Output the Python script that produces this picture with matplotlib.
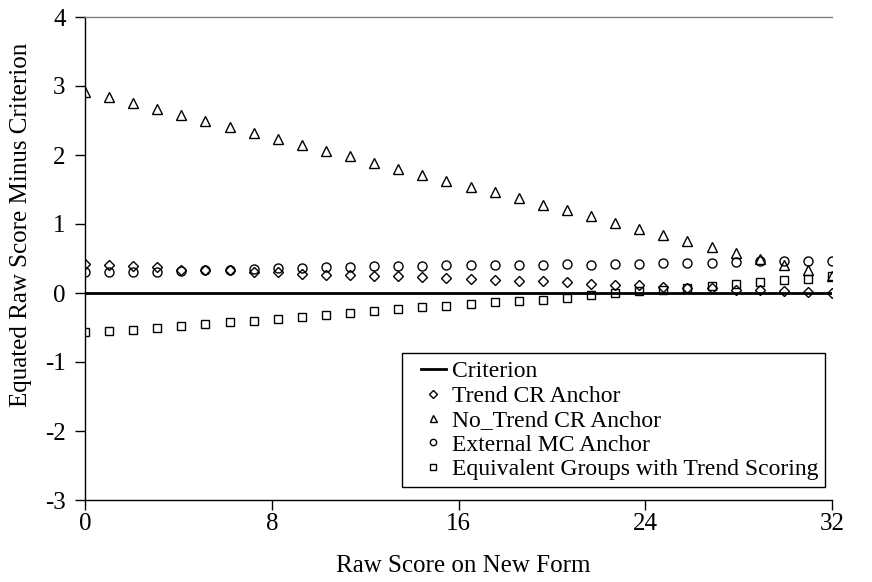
import numpy as np
import matplotlib
matplotlib.use("Agg")
import matplotlib.pyplot as plt
from matplotlib.patches import Rectangle

plt.rcParams['font.family'] = ['Liberation Serif', 'DejaVu Serif']
plt.rcParams['axes.unicode_minus'] = False

# ---- data ----
score_index = list(range(32))  # 32 plotted score points spanning the axis 0..32
x_tick_labels = ["0", "8", "16", "24", "32"]
y_ticks = [-3, -2, -1, 0, 1, 2, 3, 4]

trend_cr = [0.42, 0.41, 0.39, 0.37, 0.34, 0.33, 0.33, 0.31, 0.30, 0.28, 0.26,
            0.265, 0.25, 0.245, 0.23, 0.22, 0.20, 0.19, 0.18, 0.17, 0.155,
            0.135, 0.12, 0.11, 0.09, 0.075, 0.07, 0.05, 0.04, 0.025, 0.01, 0.0]
no_trend_cr = [2.92, 2.84, 2.75, 2.67, 2.58, 2.49, 2.41, 2.32, 2.23, 2.15, 2.06,
               1.98, 1.88, 1.80, 1.71, 1.63, 1.54, 1.46, 1.37, 1.28, 1.20,
               1.11, 1.02, 0.93, 0.84, 0.76, 0.67, 0.58, 0.50, 0.41, 0.33, 0.24]
external_mc = [0.31, 0.31, 0.31, 0.31, 0.32, 0.33, 0.33, 0.35, 0.36, 0.36, 0.37,
               0.38, 0.39, 0.39, 0.39, 0.40, 0.40, 0.40, 0.41, 0.41, 0.42,
               0.41, 0.42, 0.42, 0.43, 0.43, 0.43, 0.45, 0.46, 0.46, 0.47, 0.47]
equiv_groups = [-0.56, -0.545, -0.53, -0.51, -0.48, -0.45, -0.42, -0.40, -0.37,
                -0.35, -0.32, -0.29, -0.265, -0.235, -0.20, -0.19, -0.16, -0.13,
                -0.12, -0.10, -0.075, -0.03, 0.0, 0.025, 0.05, 0.07, 0.10, 0.13,
                0.16, 0.19, 0.21, 0.24]

n = len(score_index)
x_max = 32.0
x = np.array(score_index) * x_max / (n - 1)

W, H = 872, 582
fig = plt.figure(figsize=(W/100, H/100), dpi=100)
ax = fig.add_axes([85/W, 82/H, 747/W, 483/H])

ax.axhline(0, color='black', lw=2.0, zorder=2, label='Criterion')
mk = dict(linestyle='none', markerfacecolor='none', markeredgecolor='black',
          markeredgewidth=1.0, zorder=3)
ax.plot(x, trend_cr, marker='D', ms=5.4, label='Trend CR Anchor', **mk)
ax.plot(x, no_trend_cr, marker='^', ms=7.2, label='No_Trend CR Anchor', **mk)
ax.plot(x, external_mc, marker='o', ms=6.5, label='External MC Anchor', **mk)
ax.plot(x, equiv_groups, marker='s', ms=6.2, label='Equivalent Groups with Trend Scoring', **mk)

ax.set_xlim(0, x_max)
ax.set_ylim(-3, 4)
ax.set_xticks([float(t) for t in x_tick_labels])
ax.set_xticklabels(x_tick_labels)
ax.set_yticks(y_ticks)
ax.set_yticklabels([str(t) for t in y_ticks])

ax.tick_params(axis='both', direction='out', length=7, width=1, labelsize=18,
               color='black')
ax.tick_params(axis='x', pad=2)
ax.tick_params(axis='y', pad=7)

for s in ['left', 'bottom']:
    ax.spines[s].set_color('black')
    ax.spines[s].set_linewidth(1.0)
ax.spines['top'].set_color('#808080')
ax.spines['top'].set_linewidth(1.0)
ax.spines['right'].set_visible(False)

ax.set_xlabel('Raw Score on New Form', fontsize=18, va='center')
ax.xaxis.set_label_coords(0.507, -0.136)
ax.set_ylabel('Equated Raw Score Minus Criterion', fontsize=18, va='center')
ax.yaxis.set_label_coords(-0.086, 0.57)

leg = ax.legend(loc='lower right', bbox_to_anchor=(0.991, 0.027), fontsize=17,
                frameon=False, markerscale=0.7,
                handlelength=1.05, handletextpad=0.25, borderpad=0.3,
                labelspacing=0.12, borderaxespad=0)

# legend frame (wider on the left, as in the reference)
frame = Rectangle((402/W, (H-487)/H), 423/W, 134/H, transform=fig.transFigure,
                  facecolor='white', edgecolor='black', lw=1.0, zorder=4)
fig.add_artist(frame)
leg.set_zorder(5)
fig.add_artist(leg)

fig.savefig('out.png', dpi=100, facecolor='white')
